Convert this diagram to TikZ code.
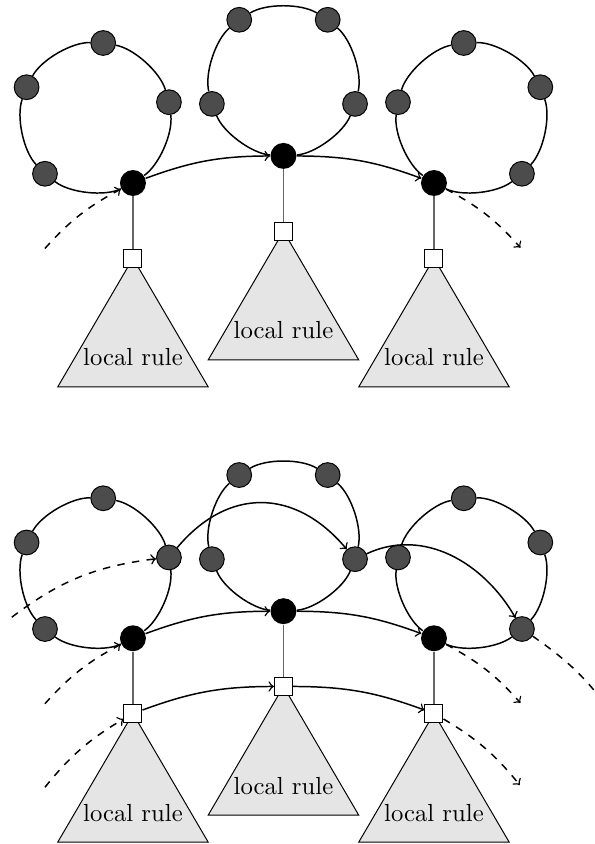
\documentclass[tikz,border=0pt]{standalone}
\usetikzlibrary{calc}

\begin{document}
\begin{tikzpicture}[x=1.07cm,y=1.07cm,
  hub/.style={circle,fill=black,inner sep=0pt,minimum size=10.5pt},
  member/.style={circle,draw,fill=black!70,inner sep=0pt,minimum size=10pt},
  port/.style={rectangle,draw,fill=white,inner sep=0pt,minimum size=7.3pt},
  ring/.style={semithick,bend right=32,looseness=0.7},
  link/.style={->,semithick},
  feed/.style={->,semithick,dashed},
  stem/.style={draw=black!60,line width=0.5pt},
  rulebox/.style={draw,fill=black!10}]

\useasboundingbox (-1.767,2.432) rectangle (6.139,-8.784);

% t = upper picture, b = lower picture
\foreach \p/\dy in {t/0,b/-6.05}{
  \foreach \i/\cx/\cy/\a in {1/-0.5/0.866/-60, 2/2/1.36/-90, 3/4.5/0.866/-120}{
    \begin{scope}[shift={(\cx,\cy+\dy)}]
      \node[hub] (\p\i-0) at (\a:1) {};
      \foreach \k in {1,...,4}
        \node[member] (\p\i-\k) at (\a+72*\k:1) {};
    \end{scope}
    \foreach \k/\n in {0/1,1/2,2/3,3/4,4/0}
      \draw[ring] (\p\i-\k) to (\p\i-\n);
    \draw[rulebox] ($(\p\i-0)+(0,-1)$) -- ++(-1,-1.71) -- ++(2,0) -- cycle;
    \node[port] (\p s\i) at ($(\p\i-0)+(0,-1)$) {};
    \node[anchor=base] (\p r\i) at ($(\p s\i)+(0,-1.43)$) {local rule};
    \draw[stem] (\p\i-0) -- (\p s\i);
  }
  \draw[link] (\p1-0) to[bend left=10] (\p2-0);
  \draw[link] (\p2-0) to[bend left=10] (\p3-0);
}

\coordinate (tin) at (-1.17,-0.87);
\coordinate (tout) at (5.15,-0.86);
\coordinate (bin) at (-1.17,-6.92);
\coordinate (bout) at (5.15,-6.91);
\coordinate (pin) at (-1.17,-8.03);
\coordinate (pout) at (5.14,-8.0);
\coordinate (xin) at (-1.61,-5.77);
\coordinate (xout) at (6.4,-7.1);

\draw[feed] (tin) to[bend left=10] (t1-0);
\draw[feed] (t3-0) to[bend left=10] (tout);
\draw[feed] (bin) to[bend left=10] (b1-0);
\draw[feed] (b3-0) to[bend left=10] (bout);
\draw[feed] (pin) to[bend left=10] (bs1);
\draw[feed] (bs3) to[bend left=10] (pout);
\draw[feed] (xin) to[bend left=15] (b1-1);
\draw[feed] (b3-1) to[bend left=10] (xout);

\draw[link] (bs1) to[bend left=10] (bs2);
\draw[link] (bs2) to[bend left=10] (bs3);
\draw[link] (b1-1) to[out=50,in=130,looseness=1.2] (b2-1);
\draw[link] (b2-1) to[out=25,in=120] (b3-1);
\end{tikzpicture}
\end{document}
